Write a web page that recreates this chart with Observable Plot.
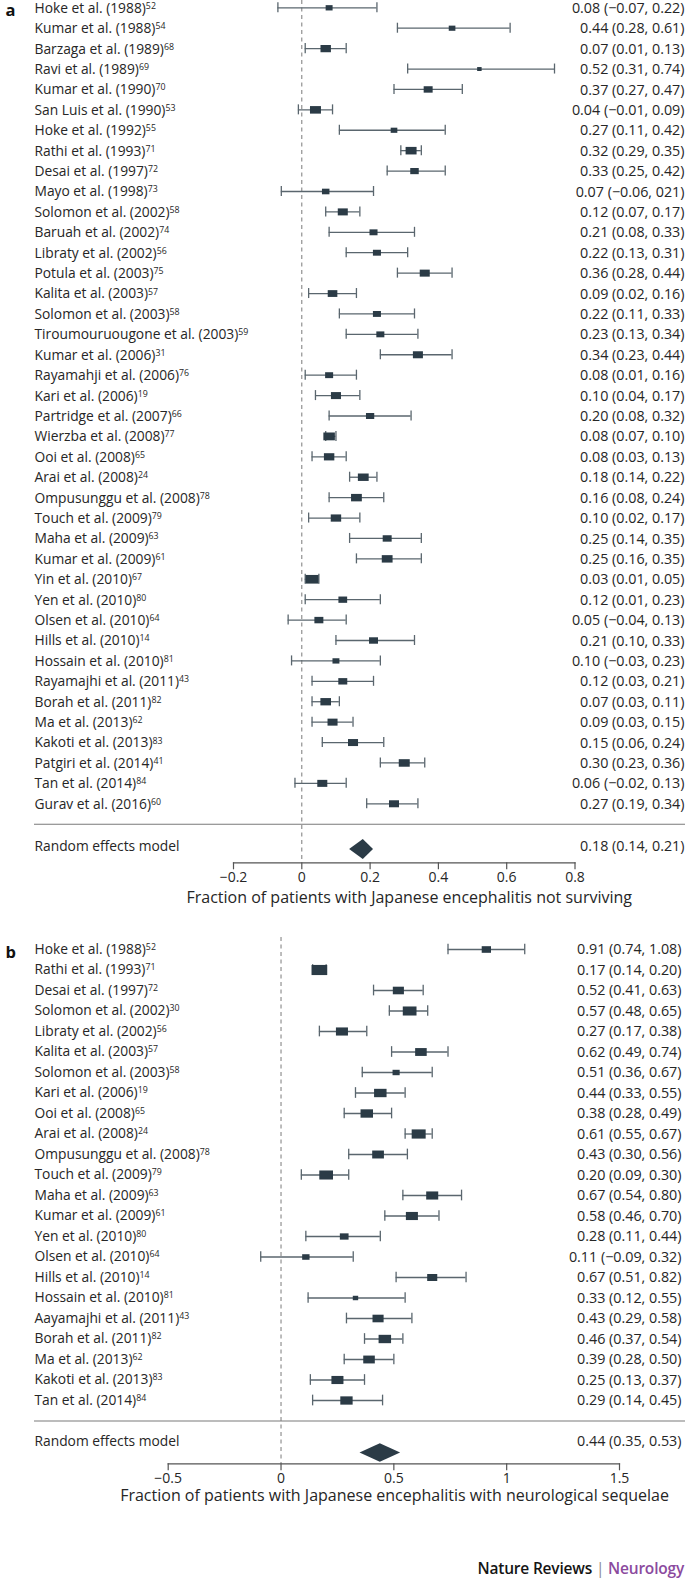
<!DOCTYPE html>
<html><head><meta charset="utf-8">
<script src="https://cdn.jsdelivr.net/npm/d3@7"></script>
<script src="https://cdn.jsdelivr.net/npm/@observablehq/plot@0.6"></script>
<style>
body{margin:0;background:#fff;width:685px;height:1580px;position:relative;overflow:hidden;font-family:"Open Sans",sans-serif;}
#a,#b{position:absolute;left:0;}
#a{top:0px} #b{top:920px}
svg{display:block;overflow:visible}
#footer{position:absolute;right:1px;top:1557px;line-height:22px;font:600 15.5px "Open Sans",sans-serif;white-space:nowrap;letter-spacing:-0.2px}
</style></head><body>
<div id="a"></div><div id="b"></div>
<div id="footer"><span style="color:#151515">Nature Reviews</span> <span style="color:#8a8a8a;font-weight:normal">|</span> <span style="color:#8b4a9e">Neurology</span></div>
<script>
// ---------- Panel a: mortality ----------
const namesA = ["Hoke et al. (1988)","Kumar et al. (1988)","Barzaga et al. (1989)","Ravi et al. (1989)","Kumar et al. (1990)","San Luis et al. (1990)","Hoke et al. (1992)","Rathi et al. (1993)","Desai et al. (1997)","Mayo et al. (1998)","Solomon et al. (2002)","Baruah et al. (2002)","Libraty et al. (2002)","Potula et al. (2003)","Kalita et al. (2003)","Solomon et al. (2003)","Tiroumouruougone et al. (2003)","Kumar et al. (2006)","Rayamahji et al. (2006)","Kari et al. (2006)","Partridge et al. (2007)","Wierzba et al. (2008)","Ooi et al. (2008)","Arai et al. (2008)","Ompusunggu et al. (2008)","Touch et al. (2009)","Maha et al. (2009)","Kumar et al. (2009)","Yin et al. (2010)","Yen et al. (2010)","Olsen et al. (2010)","Hills et al. (2010)","Hossain et al. (2010)","Rayamajhi et al. (2011)","Borah et al. (2011)","Ma et al. (2013)","Kakoti et al. (2013)","Patgiri et al. (2014)","Tan et al. (2014)","Gurav et al. (2016)"];
const refsA = ["52","54","68","69","70","53","55","71","72","73","58","74","56","75","57","58","59","31","76","19","66","77","65","24","78","79","63","61","67","80","64","14","81","43","82","62","83","41","84","60"];
const estA = [0.08,0.44,0.07,0.52,0.37,0.04,0.27,0.32,0.33,0.07,0.12,0.21,0.22,0.36,0.09,0.22,0.23,0.34,0.08,0.10,0.20,0.08,0.08,0.18,0.16,0.10,0.25,0.25,0.03,0.12,0.05,0.21,0.10,0.12,0.07,0.09,0.15,0.30,0.06,0.27];
const loA = [-0.07,0.28,0.01,0.31,0.27,-0.01,0.11,0.29,0.25,-0.06,0.07,0.08,0.13,0.28,0.02,0.11,0.13,0.23,0.01,0.04,0.08,0.07,0.03,0.14,0.08,0.02,0.14,0.16,0.01,0.01,-0.04,0.10,-0.03,0.03,0.03,0.03,0.06,0.23,-0.02,0.19];
const hiA = [0.22,0.61,0.13,0.74,0.47,0.09,0.42,0.35,0.42,0.21,0.17,0.33,0.31,0.44,0.16,0.33,0.34,0.44,0.16,0.17,0.32,0.10,0.13,0.22,0.24,0.17,0.35,0.35,0.05,0.23,0.13,0.33,0.23,0.21,0.11,0.15,0.24,0.36,0.13,0.34];
const weightA = [1.2,1.1,2.7,0.5,2.0,3.0,1.1,3.0,1.8,1.4,2.5,1.6,1.6,2.5,2.3,1.6,1.6,2.5,1.6,2.5,1.7,3.3,2.7,2.9,2.9,2.7,2.0,2.9,4.2,1.9,2.0,2.0,1.2,2.0,2.8,2.5,2.5,3.0,2.5,2.5];
const valueLabelsA = ["0.08 (−0.07, 0.22)","0.44 (0.28, 0.61)","0.07 (0.01, 0.13)","0.52 (0.31, 0.74)","0.37 (0.27, 0.47)","0.04 (−0.01, 0.09)","0.27 (0.11, 0.42)","0.32 (0.29, 0.35)","0.33 (0.25, 0.42)","0.07 (−0.06, 021)","0.12 (0.07, 0.17)","0.21 (0.08, 0.33)","0.22 (0.13, 0.31)","0.36 (0.28, 0.44)","0.09 (0.02, 0.16)","0.22 (0.11, 0.33)","0.23 (0.13, 0.34)","0.34 (0.23, 0.44)","0.08 (0.01, 0.16)","0.10 (0.04, 0.17)","0.20 (0.08, 0.32)","0.08 (0.07, 0.10)","0.08 (0.03, 0.13)","0.18 (0.14, 0.22)","0.16 (0.08, 0.24)","0.10 (0.02, 0.17)","0.25 (0.14, 0.35)","0.25 (0.16, 0.35)","0.03 (0.01, 0.05)","0.12 (0.01, 0.23)","0.05 (−0.04, 0.13)","0.21 (0.10, 0.33)","0.10 (−0.03, 0.23)","0.12 (0.03, 0.21)","0.07 (0.03, 0.11)","0.09 (0.03, 0.15)","0.15 (0.06, 0.24)","0.30 (0.23, 0.36)","0.06 (−0.02, 0.13)","0.27 (0.19, 0.34)"];
const pooledA = {est: 0.18, lo: 0.14, hi: 0.21, label: "0.18 (0.14, 0.21)"};
const ticksA = [-0.2, 0, 0.2, 0.4, 0.6, 0.8];
const titleA = "Fraction of patients with Japanese encephalitis not surviving";

// ---------- Panel b: neurological sequelae ----------
const namesB = ["Hoke et al. (1988)","Rathi et al. (1993)","Desai et al. (1997)","Solomon et al. (2002)","Libraty et al. (2002)","Kalita et al. (2003)","Solomon et al. (2003)","Kari et al. (2006)","Ooi et al. (2008)","Arai et al. (2008)","Ompusunggu et al. (2008)","Touch et al. (2009)","Maha et al. (2009)","Kumar et al. (2009)","Yen et al. (2010)","Olsen et al. (2010)","Hills et al. (2010)","Hossain et al. (2010)","Aayamajhi et al. (2011)","Borah et al. (2011)","Ma et al. (2013)","Kakoti et al. (2013)","Tan et al. (2014)"];
const refsB = ["52","71","72","30","56","57","58","19","65","24","78","79","63","61","80","64","14","81","43","82","62","83","84"];
const estB = [0.91,0.17,0.52,0.57,0.27,0.62,0.51,0.44,0.38,0.61,0.43,0.20,0.67,0.58,0.28,0.11,0.67,0.33,0.43,0.46,0.39,0.25,0.29];
const loB = [0.74,0.14,0.41,0.48,0.17,0.49,0.36,0.33,0.28,0.55,0.30,0.09,0.54,0.46,0.11,-0.09,0.51,0.12,0.29,0.37,0.28,0.13,0.14];
const hiB = [1.08,0.20,0.63,0.65,0.38,0.74,0.67,0.55,0.49,0.67,0.56,0.30,0.80,0.70,0.44,0.32,0.82,0.55,0.58,0.54,0.50,0.37,0.45];
const weightB = [2.4,6.8,3.4,5.2,4.0,3.7,1.4,4.3,4.3,5.4,3.8,5.2,4.0,4.0,2.1,1.5,2.8,0.8,3.4,4.3,3.7,4.0,4.2];
const valueLabelsB = ["0.91 (0.74, 1.08)","0.17 (0.14, 0.20)","0.52 (0.41, 0.63)","0.57 (0.48, 0.65)","0.27 (0.17, 0.38)","0.62 (0.49, 0.74)","0.51 (0.36, 0.67)","0.44 (0.33, 0.55)","0.38 (0.28, 0.49)","0.61 (0.55, 0.67)","0.43 (0.30, 0.56)","0.20 (0.09, 0.30)","0.67 (0.54, 0.80)","0.58 (0.46, 0.70)","0.28 (0.11, 0.44)","0.11 (−0.09, 0.32)","0.67 (0.51, 0.82)","0.33 (0.12, 0.55)","0.43 (0.29, 0.58)","0.46 (0.37, 0.54)","0.39 (0.28, 0.50)","0.25 (0.13, 0.37)","0.29 (0.14, 0.45)"];
const pooledB = {est: 0.44, lo: 0.35, hi: 0.53, label: "0.44 (0.35, 0.53)"};
const ticksB = [-0.5, 0, 0.5, 1, 1.5];
const titleB = "Fraction of patients with Japanese encephalitis with neurological sequelae";

const FONT = "'Open Sans', sans-serif";
const INK = "#262626", BOX = "#2b3b46", CI = "#5a666e", GREY = "#7a7a7a";
const rectSymbol = {draw(ctx, size) {
  const r = Math.sqrt(size / Math.PI), w = 2 * r, h = 0.55 * w + 1.5;
  ctx.rect(-w / 2, -h / 2, w, h);
}};
const fmt = d => d < 0 ? "\u2212" + Math.abs(d) : String(d);

function forest(o) {
  const n = o.names.length;
  const rows = o.names.map((name, i) => ({i, name, ref: o.refs[i], est: o.est[i], lo: o.lo[i], hi: o.hi[i], w: o.weight[i], label: o.labels[i]}));
  const refByName = new Map(rows.map(d => [d.name, d.ref]));
  const pool = {i: n + 1, name: "Random effects model", est: o.pooled.est, lo: o.pooled.lo, hi: o.pooled.hi, label: o.pooled.label};
  const W = 685, labelX = 34;
  const frameRight = W - o.marginRight;
  const diamond = (index, scales) => {
    const x = scales.x, y = scales.y;
    const bw = typeof y.bandwidth === "function" ? y.bandwidth() : 0;
    const cy = y(pool.i) + bw / 2 + o.diamondDy, h = o.diamondHalf;
    const pts = [[x(pool.lo), cy], [x(pool.est), cy - h], [x(pool.hi), cy], [x(pool.est), cy + h]];
    const g = d3.create("svg:g");
    g.append("polygon").attr("points", pts.map(p => p.join(",")).join(" ")).attr("fill", BOX);
    return g.node();
  };
  const chart = Plot.plot({
    width: W, height: o.height,
    marginLeft: o.marginLeft, marginRight: o.marginRight, marginTop: o.marginTop, marginBottom: o.marginBottom,
    style: {fontFamily: FONT, fontSize: "13.8px", color: INK, background: "transparent", overflow: "visible"},
    x: {domain: o.domain},
    y: {type: "band", domain: d3.range(n + 2), range: o.yRange, padding: 0, round: false, axis: null},
    r: {type: "sqrt", domain: [0, d3.max(o.weight)], range: [0, o.rMax]},
    marks: [
      Plot.ruleX([0], {stroke: GREY, strokeWidth: 1, strokeDasharray: "4,3.5"}),
      Plot.ruleY([n], {y: d => d, stroke: GREY, strokeWidth: 1.1, insetLeft: labelX - o.marginLeft, insetRight: frameRight - W}),
      Plot.ruleY(rows, {y: "i", x1: "lo", x2: "hi", stroke: CI, strokeWidth: 1.3}),
      Plot.tickX(rows, {y: "i", x: "lo", stroke: CI, strokeWidth: 1.3, insetTop: o.capInset, insetBottom: o.capInset}),
      Plot.tickX(rows, {y: "i", x: "hi", stroke: CI, strokeWidth: 1.3, insetTop: o.capInset, insetBottom: o.capInset}),
      Plot.dot(rows, {x: "est", y: "i", r: "w", symbol: rectSymbol, fill: BOX, stroke: null}),
      diamond,
      Plot.text(rows, {y: "i", text: "name", frameAnchor: "left", textAnchor: "start", dx: labelX - o.marginLeft, dy: o.rowDy, fill: INK, fontSize: 13.8}),
      Plot.text(rows, {y: "i", text: "label", frameAnchor: "right", textAnchor: "end", dx: o.valueX - frameRight, dy: o.rowDy, fill: INK, fontSize: 14.3}),
      Plot.text([pool], {y: "i", text: "name", frameAnchor: "left", textAnchor: "start", dx: labelX - o.marginLeft, dy: o.textDy, fill: INK, fontSize: 13.8}),
      Plot.text([pool], {y: "i", text: "label", frameAnchor: "right", textAnchor: "end", dx: o.valueX - frameRight, dy: o.textDy, fill: INK, fontSize: 14.3}),
      Plot.text([{i: 0, t: o.letter}], {y: "i", text: "t", frameAnchor: "left", textAnchor: "start", dx: 5 - o.marginLeft, dy: 3, fill: "#111", fontSize: 16.5, fontWeight: "bold"}),
      Plot.frame({anchor: "bottom", stroke: "#555", strokeWidth: 1.2}),
      Plot.axisX(o.ticks, {tickSize: 7, tickPadding: 2, tickFormat: fmt, stroke: "#555", strokeWidth: 1.2, fill: INK, fontSize: 14, label: null}),
      Plot.text([o.title], {text: d => d, frameAnchor: "bottom", dx: o.titleDx, dy: o.titleDy, fill: INK, fontSize: 16})
    ]
  });
  // superscript reference numbers after each study name
  d3.select(chart).selectAll("text").each(function() {
    const t = this.textContent;
    if (this.childElementCount === 0 && refByName.has(t)) {
      d3.select(this).append("tspan").attr("dy", "-0.45em").attr("font-size", "8.8px").text(refByName.get(t));
    }
  });
  return chart;
}

document.getElementById("a").append(forest({
  names: namesA, refs: refsA, est: estA, lo: loA, hi: hiA, weight: weightA, labels: valueLabelsA, pooled: pooledA,
  ticks: ticksA, domain: [-0.2, 0.8], title: titleA, letter: "a", valueX: 684, rowDy: 0.5,
  height: 920, marginTop: 0, marginBottom: 57.7, marginLeft: 233, marginRight: 110.5,
  yRange: [-2.9, 854.3], rMax: 6.5, capInset: 5.2, diamondHalf: 10, diamondDy: 5, textDy: 2, titleDx: 5, titleDy: 40.5
}));
document.getElementById("b").append(forest({
  names: namesB, refs: refsB, est: estB, lo: loB, hi: hiB, weight: weightB, labels: valueLabelsB, pooled: pooledB,
  ticks: ticksB, domain: [-0.5, 1.5], title: titleB, letter: "b", valueX: 681, rowDy: 0,
  height: 595, marginTop: 17, marginBottom: 51.7, marginLeft: 167.7, marginRight: 66,
  yRange: [18.75, 531.25], rMax: 7.85, capInset: 4.9, diamondHalf: 9.2, diamondDy: 11.5, textDy: 0, titleDx: 0.7, titleDy: 37.5
}));
</script>
</body></html>
